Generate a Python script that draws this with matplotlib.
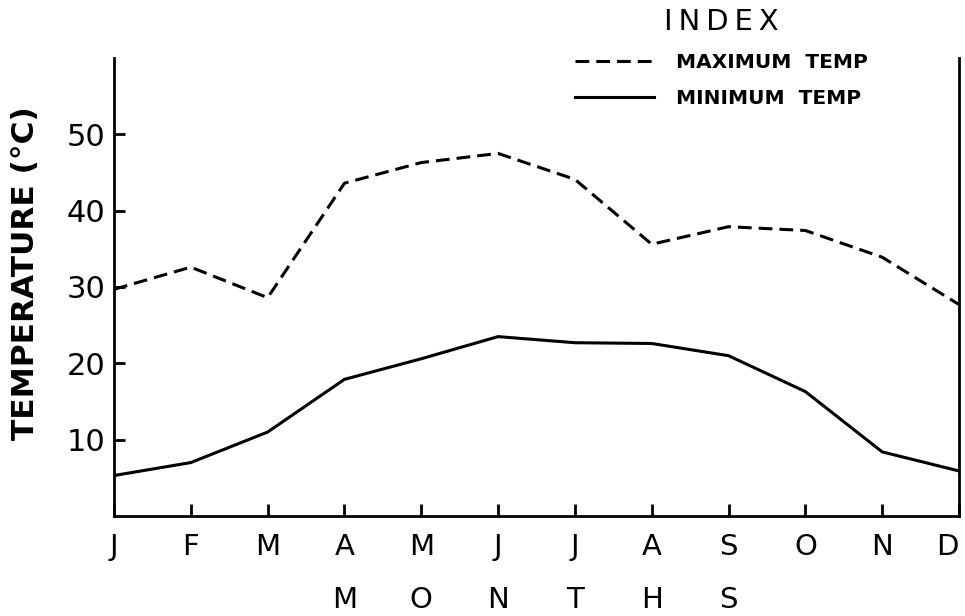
import matplotlib
matplotlib.use("Agg")
import matplotlib.pyplot as plt
from matplotlib import transforms

months = ["J", "F", "M", "A", "M", "J", "J", "A", "S", "O", "N", "D"]
max_temp = [29.7, 32.6, 28.6, 43.6, 46.3, 47.5, 44.1, 35.6, 37.9, 37.4, 33.9, 27.7]
min_temp = [5.3, 7.0, 11.0, 17.9, 20.6, 23.5, 22.7, 22.6, 21.0, 16.3, 8.4, 5.9]
y_ticks = [10, 20, 30, 40, 50]
xlabel_word = "MONTHS"

plt.rcParams['font.family'] = ['DejaVu Sans']

W, H = 965, 616
fig = plt.figure(figsize=(W / 100, H / 100), dpi=100)
ax = fig.add_axes([114 / W, (H - 516) / H, 845 / W, 458 / H])

x = list(range(len(months)))
l1, = ax.plot(x, max_temp, color='black', lw=2.2, label='MAXIMUM  TEMP')
l1.set_dashes((4.5, 2.3))
l2, = ax.plot(x, min_temp, color='black', lw=2.2, label='MINIMUM  TEMP')

ax.set_xlim(0, len(months) - 1)
ax.set_ylim(0, 60)
ax.set_xticks(x)
ax.set_xticklabels(months)
ax.set_yticks(y_ticks)
ax.set_yticklabels([str(v) for v in y_ticks])

ax.spines['top'].set_visible(False)
for s in ['left', 'right', 'bottom']:
    ax.spines[s].set_linewidth(2.0)

ax.tick_params(axis='y', direction='in', length=8, width=2, pad=6, labelsize=22)
ax.tick_params(axis='x', direction='in', length=9, width=2, pad=12, labelsize=21)
ax.get_xticklabels()[-1].set_ha('right')

ax.set_ylabel('TEMPERATURE (°C)', fontsize=22.5, fontweight='bold')
ax.yaxis.set_label_coords((40 - 114) / 845, (516 - 273) / 458)

# "M O N T H S" letters spread under month ticks
tr = transforms.blended_transform_factory(ax.transData, fig.transFigure)
for i, ch in enumerate(xlabel_word):
    ax.text(3 + i, 1 - 600 / H, ch, transform=tr, ha='center', va='center',
            fontsize=21)

leg = ax.legend(handles=[l1, l2], loc='upper left',
                bbox_to_anchor=(575 / W, 1 - 8 / H),
                bbox_transform=fig.transFigure, frameon=False,
                title='I\u2009N\u2009D\u2009E\u2009X', title_fontsize=21,
                prop={'size': 14.5, 'weight': 'bold'},
                handlelength=3.9, handletextpad=1.1, labelspacing=0.85,
                borderpad=0, borderaxespad=0)
leg.get_title().set_ha('center')

fig.savefig('out.png', dpi=100)
